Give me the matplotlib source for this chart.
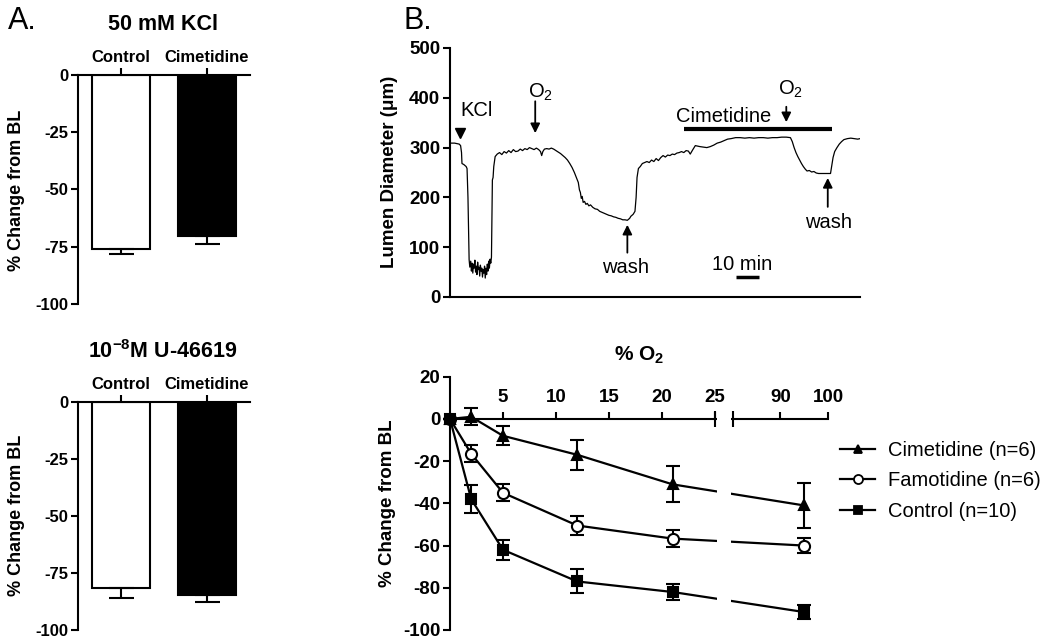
import numpy as np
import matplotlib
matplotlib.use('Agg')
import matplotlib.pyplot as plt
from matplotlib.lines import Line2D

plt.rcParams['font.family'] = ['Liberation Sans', 'DejaVu Sans']
plt.rcParams['mathtext.fontset'] = 'custom'
plt.rcParams['mathtext.rm'] = 'Liberation Sans'
plt.rcParams['mathtext.bf'] = 'Liberation Sans:bold'
plt.rcParams['mathtext.it'] = 'Liberation Sans:italic'
plt.rcParams['axes.unicode_minus'] = False

W, H = 1050, 643

# ---------------- data ----------------
bar_groups = ['Control', 'Cimetidine']
kcl_means = [-76.0, -70.5]
kcl_errs = [2.0, 3.5]
u46619_means = [-81.5, -84.5]
u46619_errs = [4.5, 3.0]

trace_time = [0.0, 2.0, 4.0, 4.6, 5.0, 5.2, 6.0, 7.0, 7.4, 7.8, 8.1, 8.3,
              8.6, 9.0, 9.3, 9.6, 9.9, 10.2, 10.5, 10.8, 11.1, 11.4, 11.7, 12.0,
              12.3, 12.6, 12.9, 13.2, 13.5, 13.8, 14.1, 14.4, 14.7, 15.0, 15.3,
              15.6, 15.9, 16.2, 16.5, 16.8, 17.1, 17.4, 17.7, 18.0,
              18.2, 18.4, 18.7, 19.0, 19.6, 20.5, 21.5, 22.5, 23.5, 24.5, 25.5,
              26.5, 27.5, 28.5, 29.5, 30.5, 31.5, 32.5, 33.5, 34.5, 35.5, 36.5,
              37.5, 38.5, 39.3, 39.8, 40.3, 41.0, 42.0, 43.0, 44.0, 45.0, 46.0,
              47.0, 48.0, 49.0, 50.0, 51.0, 52.0, 53.0, 54.0, 55.0, 55.7, 56.2,
              56.6, 57.0, 57.4, 57.8, 58.4, 59.0, 59.6, 60.3, 61.0, 62.0, 63.0,
              64.0, 65.0, 66.0, 67.0, 68.0, 69.0, 70.0, 71.0, 72.0, 73.0, 74.0,
              75.0, 76.0, 77.0, 78.0, 78.5, 79.5, 80.3, 80.8, 81.2, 81.8, 82.6,
              83.5, 84.5, 85.5, 86.5, 87.5, 88.5, 89.5, 90.5, 91.5, 92.5, 93.5,
              94.5, 95.5, 96.5, 97.5, 98.5, 99.5, 100.5, 101.5, 102.5, 103.5,
              104.3, 105.3, 106.5, 107.5, 108.5, 110.0, 111.5, 113.0, 114.5,
              116.0, 117.5, 119.0, 120.5, 122.0, 124.0, 126.0, 128.0, 130.0,
              132.0, 134.0, 136.0, 138.0, 140.0, 142.0, 144.0, 146.0, 147.8,
              148.6, 149.4, 150.2, 151.0, 151.8, 152.6, 153.4, 154.2, 155.0,
              156.0, 157.0, 158.0, 159.0, 160.0, 161.5, 163.0, 164.5, 165.2,
              165.7, 166.3, 167.0, 168.0, 169.0, 170.0, 171.0, 172.5, 174.0,
              175.5, 177.0, 178.0]
trace_diam = [309, 309, 307, 304, 290, 268, 266, 262, 258, 200, 120, 75,
              60, 72, 52, 68, 48, 66, 58, 74, 50, 62, 45, 70,
              55, 60, 42, 64, 52, 58, 40, 55, 48, 62, 38,
              58, 45, 66, 52, 72, 58, 76, 68, 80,
              150, 235, 240, 262, 282, 287, 290, 286, 292, 289, 294,
              290, 296, 292, 293, 297, 294, 298, 296, 300, 298, 296,
              299, 296, 292, 284, 292, 297, 298, 297, 299, 297, 294,
              291, 288, 284, 280, 275, 268, 260, 250, 238, 230, 215,
              210, 198, 202, 190, 192, 186, 188, 183, 185, 180, 177,
              176, 172, 170, 168, 166, 164, 163, 161, 160, 158, 157,
              155, 155, 154, 158, 162, 166, 172, 200, 240, 258, 262,
              268, 270, 272, 270, 275, 272, 278, 274, 280, 284, 281,
              285, 284, 287, 286, 289, 290, 292, 290, 294, 293,
              287, 295, 304, 303, 302, 301, 300, 302, 305,
              309, 311, 314, 317, 318, 320, 320, 319, 320,
              319, 320, 320, 319, 320, 320, 321, 321, 320,
              312, 300, 290, 282, 275, 268, 262, 257, 253,
              254, 251, 252, 249, 248, 248, 248, 248, 248,
              262, 280, 292, 300, 307, 312, 316, 318, 319,
              318, 317, 318]

o2_pct = [0, 2, 5, 12, 21, 95]
cim_mean = [0, 1, -8, -17, -31, -41]
cim_err = [0, 4, 4.5, 7, 8.5, 10.5]
fam_mean = [0, -16.5, -35, -50.5, -56.7, -60]
fam_err = [0, 4, 4, 4.3, 4, 3.6]
ctl_mean = [0, -38, -62, -77, -82, -91.5]
ctl_err = [0, 6.7, 4.8, 5.7, 4, 3.4]
series_labels = ['Cimetidine (n=6)', 'Famotidine (n=6)', 'Control (n=10)']

# axis break for the O2 panel
break_lo, break_hi = 25, 80

fig = plt.figure(figsize=(W / 100, H / 100), dpi=100)
fig.patch.set_facecolor('white')


def fx(px):
    return px / W


def fy(py):
    return 1 - py / H


def bold_ticks(ax):
    for lab in ax.get_xticklabels() + ax.get_yticklabels():
        lab.set_fontweight('bold')


# ---------------- Panel A ----------------
def bar_panel(rect, means, errs, title, ty):
    ax = fig.add_axes(rect)
    x = np.arange(len(bar_groups))
    ax.bar(x, means, width=0.68, color=['white', 'black'], edgecolor='black',
           linewidth=1.5, zorder=2)
    ax.errorbar(x, means, yerr=[errs, np.zeros(len(errs))], fmt='none',
                ecolor='black', elinewidth=1.5, capsize=9, capthick=1.5, zorder=3)
    ax.set_xlim(-0.5, 1.5)
    ax.set_ylim(-100, 0)
    for s in ['right', 'bottom']:
        ax.spines[s].set_visible(False)
    for s in ['top', 'left']:
        ax.spines[s].set_linewidth(1.5)
    ax.xaxis.tick_top()
    ax.set_xticks(x, bar_groups)
    ax.set_yticks([0, -25, -50, -75, -100])
    ax.tick_params(axis='both', direction='out', length=5, width=1.5,
                   labelsize=12, pad=2)
    bold_ticks(ax)
    fig.text(fx(163), fy(ty), title, ha='center', va='center', fontsize=15.5,
             fontweight='bold')
    return ax


axA1 = bar_panel([fx(78), fy(304), 172 / W, 229 / H], kcl_means, kcl_errs,
                 '50 mM KCl', 25)
axA2 = bar_panel([fx(78), fy(630), 172 / W, 228 / H], u46619_means, u46619_errs,
                 r'10$^{\mathbf{-8}}$M U-46619', 352)
fig.text(fx(17), fy(190), '% Change from BL', rotation=90, ha='center',
         va='center', fontsize=13, fontweight='bold')
fig.text(fx(17), fy(515), '% Change from BL', rotation=90, ha='center',
         va='center', fontsize=13, fontweight='bold')
fig.text(fx(8), fy(21), 'A.', ha='left', va='center', fontsize=22)
fig.text(fx(403), fy(21), 'B.', ha='left', va='center', fontsize=22)

# ---------------- Panel B top: trace ----------------
axT = fig.add_axes([fx(450), fy(297), 410 / W, 249 / H])
axT.plot(trace_time, trace_diam, color='black', lw=0.9)
axT.set_xlim(0, 178)
axT.set_ylim(0, 500)
for s in ['right', 'top']:
    axT.spines[s].set_visible(False)
for s in ['left', 'bottom']:
    axT.spines[s].set_linewidth(1.5)
axT.set_xticks([])
axT.set_yticks([0, 100, 200, 300, 400, 500])
axT.tick_params(axis='y', direction='out', length=5, width=1.5, labelsize=13.5,
                pad=2)
bold_ticks(axT)
fig.text(fx(389), fy(172), 'Lumen Diameter (\u03bcm)', rotation=90,
         ha='center', va='center', fontsize=13.5, fontweight='bold')

ann_fs = 14.5
arrow = dict(arrowstyle='-|>', lw=1.3, color='black', mutation_scale=14,
             shrinkA=0, shrinkB=0)
axT.plot([4.3], [329], marker='v', color='black', ms=7, ls='none')
axT.text(11.5, 375, 'KCl', ha='center', va='center', fontsize=ann_fs)
axT.annotate('', xy=(37, 329), xytext=(37, 393), arrowprops=arrow)
axT.text(39.5, 410, r'O$_2$', ha='center', va='center', fontsize=ann_fs)
axT.annotate('', xy=(77, 145), xytext=(77, 89), arrowprops=arrow)
axT.text(76, 60, 'wash', ha='center', va='center', fontsize=ann_fs)
axT.plot([101.7, 166.0], [337, 337], color='black', lw=3, solid_capstyle='butt')
axT.text(119, 363, 'Cimetidine', ha='center', va='center', fontsize=ann_fs)
axT.annotate('', xy=(146, 351), xytext=(146, 382), arrowprops=arrow)
axT.text(148, 416, r'O$_2$', ha='center', va='center', fontsize=ann_fs)
axT.annotate('', xy=(164, 239), xytext=(164, 181), arrowprops=arrow)
axT.text(164.5, 150, 'wash', ha='center', va='center', fontsize=ann_fs)
axT.plot([124, 134], [40, 40], color='black', lw=2.5, solid_capstyle='butt')
axT.text(127, 66, '10 min', ha='center', va='center', fontsize=ann_fs)

# ---------------- Panel B bottom: O2 response ----------------
px_in = [0, break_lo, break_hi, 100]
px_out = [0, 265, 283, 378]


def fwd(x):
    return np.interp(x, px_in, px_out)


def inv(y):
    return np.interp(y, px_out, px_in)


axO = fig.add_axes([fx(450), fy(630), 378 / W, 253.3 / H])
axO.set_xscale('function', functions=(fwd, inv))
axO.set_xlim(0, 100)
axO.set_ylim(-100, 20)

styles = [
    dict(marker='^', mfc='black', ms=7),
    dict(marker='o', mfc='white', ms=8),
    dict(marker='s', mfc='black', ms=7),
]
for mean, err, st in zip([cim_mean, fam_mean, ctl_mean],
                         [cim_err, fam_err, ctl_err], styles):
    axO.errorbar(o2_pct, mean, yerr=err, color='black', lw=1.6, ecolor='black',
                 elinewidth=1.5, capsize=5, capthick=1.5, mec='black', mew=1.5,
                 clip_on=False, zorder=2, **st)

axO.axvspan(31, 74, ymin=0, ymax=0.85, color='white', zorder=2.7, lw=0)
axO.plot([break_lo, break_hi], [0, 0], ls='none', marker='|', ms=12, mew=1.5,
         color='black', zorder=3, clip_on=False)

for s in ['right', 'bottom']:
    axO.spines[s].set_visible(False)
axO.spines['top'].set_position(('data', 0))
axO.spines['top'].set_linewidth(1.5)
axO.spines['left'].set_linewidth(1.5)
axO.xaxis.tick_top()
axO.set_xticks([5, 10, 15, 20, 25, 90, 100])
axO.set_xticklabels(['5', '10', '15', '20', '25', '90', '100'])
axO.xaxis.set_minor_locator(matplotlib.ticker.NullLocator())
axO.set_yticks([20, 0, -20, -40, -60, -80, -100])
axO.tick_params(axis='both', direction='out', length=5, width=1.5,
                labelsize=13.5, pad=2)
axO.tick_params(axis='x', pad=4)
bold_ticks(axO)
fig.text(fx(639), fy(355), r'% O$_\mathbf{2}$', ha='center', va='center',
         fontsize=15, fontweight='bold')
fig.text(fx(388), fy(503), '% Change from BL', rotation=90, ha='center',
         va='center', fontsize=13.5, fontweight='bold')

leg_styles = [
    dict(marker='^', mfc='black', ms=6),
    dict(marker='o', mfc='white', ms=6.5),
    dict(marker='s', mfc='black', ms=6),
]
handles = [Line2D([], [], color='black', lw=1.6, mec='black', mew=1.3, **st)
           for st in leg_styles]
fig.legend(handles, series_labels, loc='center left',
           bbox_to_anchor=(fx(840), fy(481)), frameon=False, borderpad=0,
           borderaxespad=0, handlelength=1.75, handletextpad=0.65,
           labelspacing=0.55, fontsize=14.5)

fig.savefig('out.png', dpi=100, facecolor='white')
